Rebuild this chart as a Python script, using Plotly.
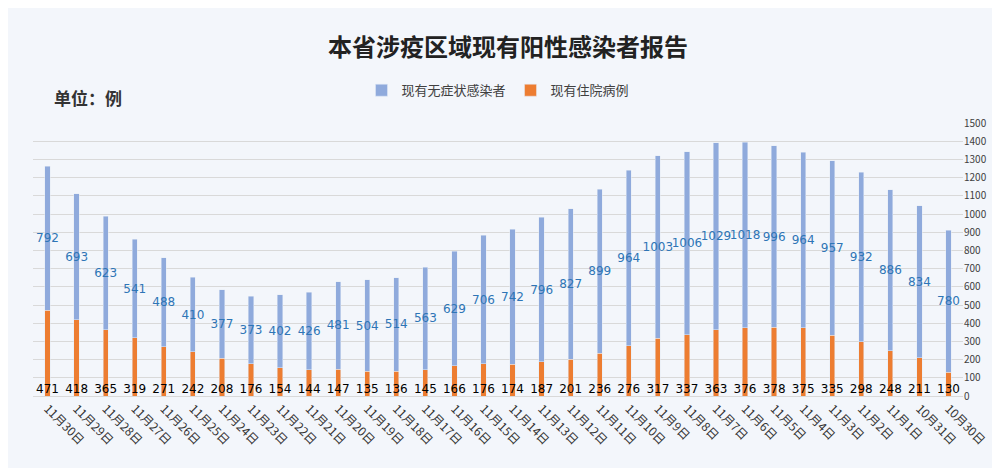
import plotly.graph_objects as go

dates = ["11月30日","11月29日","11月28日","11月27日","11月26日","11月25日","11月24日","11月23日",
         "11月22日","11月21日","11月20日","11月19日","11月18日","11月17日","11月16日","11月15日",
         "11月14日","11月13日","11月12日","11月11日","11月10日","11月9日","11月8日","11月7日",
         "11月6日","11月5日","11月4日","11月3日","11月2日","11月1日","10月31日","10月30日"]
hospital = [471,418,365,319,271,242,208,176,154,144,147,135,136,145,166,176,174,187,201,236,
            276,317,337,363,376,378,375,335,298,248,211,130]
asym = [792,693,623,541,488,410,377,373,402,426,481,504,514,563,629,706,742,796,827,899,
        964,1003,1006,1029,1018,996,964,957,932,886,834,780]
yticks = list(range(0, 1501, 100))

fig = go.Figure()
fig.add_bar(x=dates, y=hospital, name="现有住院病例", marker_color="#ED7D31", width=0.18,
            text=hospital, textposition="inside", insidetextanchor="start", textangle=0,
            constraintext="none", textfont=dict(color="black", size=12, family="DejaVu Sans"))
fig.add_bar(x=dates, y=asym, name="现有无症状感染者", marker_color="#8FAADC", width=0.18,
            text=asym, textposition="inside", insidetextanchor="middle", textangle=0,
            constraintext="none", textfont=dict(color="#2E75B6", size=12, family="DejaVu Sans"))
fig.update_layout(
    barmode="stack", width=1000, height=468,
    paper_bgcolor="#F3F6FB", plot_bgcolor="#F3F6FB",
    font=dict(family="Noto Sans CJK SC", color="#404040"),
    title=dict(text="<b>本省涉疫区域现有阳性感染者报告</b>", x=0.5, y=0.915, xanchor="center",
               yanchor="middle", font=dict(size=24, color="#222")),
    legend=dict(orientation="h", x=0.5, xanchor="center", y=1.12, yanchor="middle",
                font=dict(size=13)),
    margin=dict(l=25, r=45, t=115, b=80),
    annotations=[dict(text="<b>单位：例</b>", x=0.02, y=1.04, xref="paper", yref="paper",
                      xanchor="left", yanchor="bottom", showarrow=False,
                      font=dict(size=17, color="#333"))],
)
fig.update_xaxes(tickangle=45, tickfont=dict(size=12, color="#333"), showgrid=False,
                 showline=True, linecolor="#D9D9D9")
fig.update_yaxes(side="right", range=[0, 1500], tickvals=yticks, tickfont=dict(size=10),
                 gridcolor="#D9D9D9", zeroline=False)
fig.write_html("out.html")
